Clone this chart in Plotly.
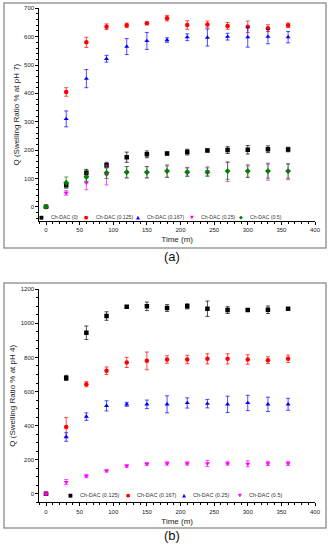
import plotly.graph_objects as go

# ---------------- data ----------------
time_min = [0, 30, 60, 90, 120, 150, 180, 210, 240, 270, 300, 330, 360]

# (a) pH 7
names_a = ["Ch-DAC (0)", "Ch-DAC (0.125)", "Ch-DAC (0.167)", "Ch-DAC (0.25)", "Ch-DAC (0.5)"]
q7_0 = [0, 77, 120, 147, 175, 185, 188, 193, 199, 200, 201, 203, 202]
e7_0 = [2, 8, 12, 10, 18, 12, 5, 10, 5, 12, 15, 12, 8]
q7_125 = [0, 405, 580, 635, 640, 647, 665, 641, 643, 638, 635, 630, 640]
e7_125 = [0, 15, 18, 10, 8, 5, 10, 15, 12, 12, 20, 12, 8]
q7_167 = [0, 310, 452, 522, 565, 585, 588, 598, 597, 600, 598, 600, 598]
e7_167 = [0, 28, 32, 12, 28, 30, 8, 12, 30, 12, 35, 25, 20]
q7_25 = [0, 49, 85, 112, 122, 122, 124, 124, 126, 124, 124, 124, 124]
e7_25 = [0, 8, 25, 35, 20, 20, 20, 15, 15, 35, 20, 30, 28]
q7_5 = [0, 85, 105, 120, 122, 122, 126, 122, 122, 126, 126, 126, 126]
e7_5 = [2, 20, 15, 20, 20, 20, 22, 15, 15, 30, 22, 25, 25]

# (b) pH 4
names_b = ["Ch-DAC (0.125)", "Ch-DAC (0.167)", "Ch-DAC (0.25)", "Ch-DAC (0.5)"]
q4_125 = [0, 680, 945, 1043, 1098, 1100, 1090, 1100, 1086, 1078, 1078, 1080, 1086]
e4_125 = [0, 15, 40, 25, 5, 25, 20, 15, 45, 20, 5, 22, 5]
q4_167 = [0, 392, 643, 722, 771, 780, 788, 788, 792, 792, 788, 784, 792]
e4_167 = [0, 55, 15, 22, 30, 52, 22, 25, 30, 30, 28, 20, 22]
q4_25 = [0, 333, 453, 516, 525, 525, 525, 533, 529, 525, 533, 525, 525]
e4_25 = [0, 25, 22, 30, 12, 25, 50, 30, 25, 48, 45, 42, 35]
q4_5 = [0, 69, 104, 135, 163, 175, 178, 178, 178, 178, 176, 178, 178]
e4_5 = [5, 15, 10, 8, 8, 8, 10, 10, 18, 10, 18, 12, 12]

colors_a = ["#000000", "#FF0000", "#0000FF", "#FF00FF", "#008000"]
symbols_a = ["square", "circle", "triangle-up", "triangle-down", "diamond"]
glyphs_a = ["■", "●", "▲", "▼", "◆"]
colors_b = colors_a[:4]
symbols_b = symbols_a[:4]
glyphs_b = glyphs_a[:4]

series_a = [(q7_0, e7_0), (q7_125, e7_125), (q7_167, e7_167), (q7_25, e7_25), (q7_5, e7_5)]
series_b = [(q4_125, e4_125), (q4_167, e4_167), (q4_25, e4_25), (q4_5, e4_5)]

W, H = 330, 550
FONT = "Arial, 'Liberation Sans', sans-serif"

fig = go.Figure()

def add_series(series, names, colors, symbols, xa, ya):
    for (q, e), n, c, s in zip(series, names, colors, symbols):
        fig.add_trace(go.Scatter(
            x=time_min, y=q, name=n, mode="markers",
            xaxis=xa, yaxis=ya, showlegend=False,
            marker=dict(symbol=s, color=c, size=4.5, line=dict(width=0)),
            error_y=dict(type="data", array=e, visible=True, color=c,
                         thickness=0.7, width=2),
        ))

add_series(series_a, names_a, colors_a, symbols_a, "x", "y")
add_series(series_b, names_b, colors_b, symbols_b, "x2", "y2")

def px_x(p):
    return p / W

def px_y(p):
    return 1 - p / H

axis_common = dict(
    showline=True, linecolor="#000000", linewidth=1, mirror=False,
    ticks="outside", ticklen=3, tickwidth=1, tickcolor="#000000",
    showgrid=False, zeroline=False,
    tickfont=dict(family=FONT, size=6, color="#222222"),
    ticklabeloverflow="allow",
    automargin=False,
    minor=dict(ticks="outside", ticklen=2, tickwidth=0.8, tickcolor="#000000", showgrid=False),
)

xdom = [px_x(39.3), px_x(315)]

fig.update_layout(
    width=W, height=H,
    margin=dict(l=0, r=0, t=0, b=0),
    paper_bgcolor="white", plot_bgcolor="white",
    font=dict(family=FONT, color="#222222"),
    hovermode=False,
    xaxis=dict(axis_common, domain=xdom, anchor="y", range=[-10, 400],
               tick0=0, dtick=50,
               title=dict(text="Time (m)", font=dict(family=FONT, size=8), standoff=4)),
    yaxis=dict(axis_common, domain=[px_y(221), px_y(8.3)], anchor="x",
               range=[-50, 700], tick0=0, dtick=100,
               title=dict(text="Q (Swelling Ratio % at pH 7)", font=dict(family=FONT, size=8), standoff=3)),
    xaxis2=dict(axis_common, domain=xdom, anchor="y2", range=[-10, 400],
                tick0=0, dtick=50,
                title=dict(text="Time (m)", font=dict(family=FONT, size=8), standoff=4)),
    yaxis2=dict(axis_common, domain=[px_y(502.3), px_y(289.3)], anchor="x2",
                range=[-50, 1200], tick0=0, dtick=200,
                title=dict(text="Q (Swelling Ratio % at pH 4)", font=dict(family=FONT, size=8), standoff=3)),
)

# outer panel frames
for top, bot in [(3, 248), (283, 528)]:
    fig.add_shape(type="rect", xref="paper", yref="paper",
                  x0=px_x(4), x1=px_x(326), y0=px_y(bot), y1=px_y(top),
                  line=dict(color="#9a9a9a", width=1.5), fillcolor="rgba(0,0,0,0)", layer="below")

# panel labels
for lab, yc in [("(a)", 256), ("(b)", 535)]:
    fig.add_annotation(text=lab, xref="paper", yref="paper", x=px_x(172), y=px_y(yc),
                       showarrow=False, xanchor="center", yanchor="middle",
                       font=dict(family=FONT, size=13, color="#111111"))

# in-plot legends (symbol + text)
def add_legend(names, colors, glyphs, sym_x, y, fs):
    for n, c, g, sx in zip(names, colors, glyphs, sym_x):
        fig.add_annotation(text=g, xref="paper", yref="paper", x=px_x(sx), y=px_y(y),
                           showarrow=False, xanchor="center", yanchor="middle",
                           font=dict(family="DejaVu Sans", size=5, color=c))
        fig.add_annotation(text=n, xref="paper", yref="paper", x=px_x(sx + 7), y=px_y(y),
                           showarrow=False, xanchor="left", yanchor="middle",
                           font=dict(family=FONT, size=fs, color="#333333"))

add_legend(names_a, colors_a, glyphs_a, [41.7, 86.7, 138.3, 192.3, 240.7], 216.7, 5.2)
add_legend(names_b, colors_b, glyphs_b, [70.7, 128.3, 184, 240], 495, 5.5)

# remove the default 8px page margin so the figure sits at the window origin
fig.write_html("out.html", config={"displayModeBar": False},
               post_script="document.body.style.margin='0';document.body.style.overflow='hidden';")
